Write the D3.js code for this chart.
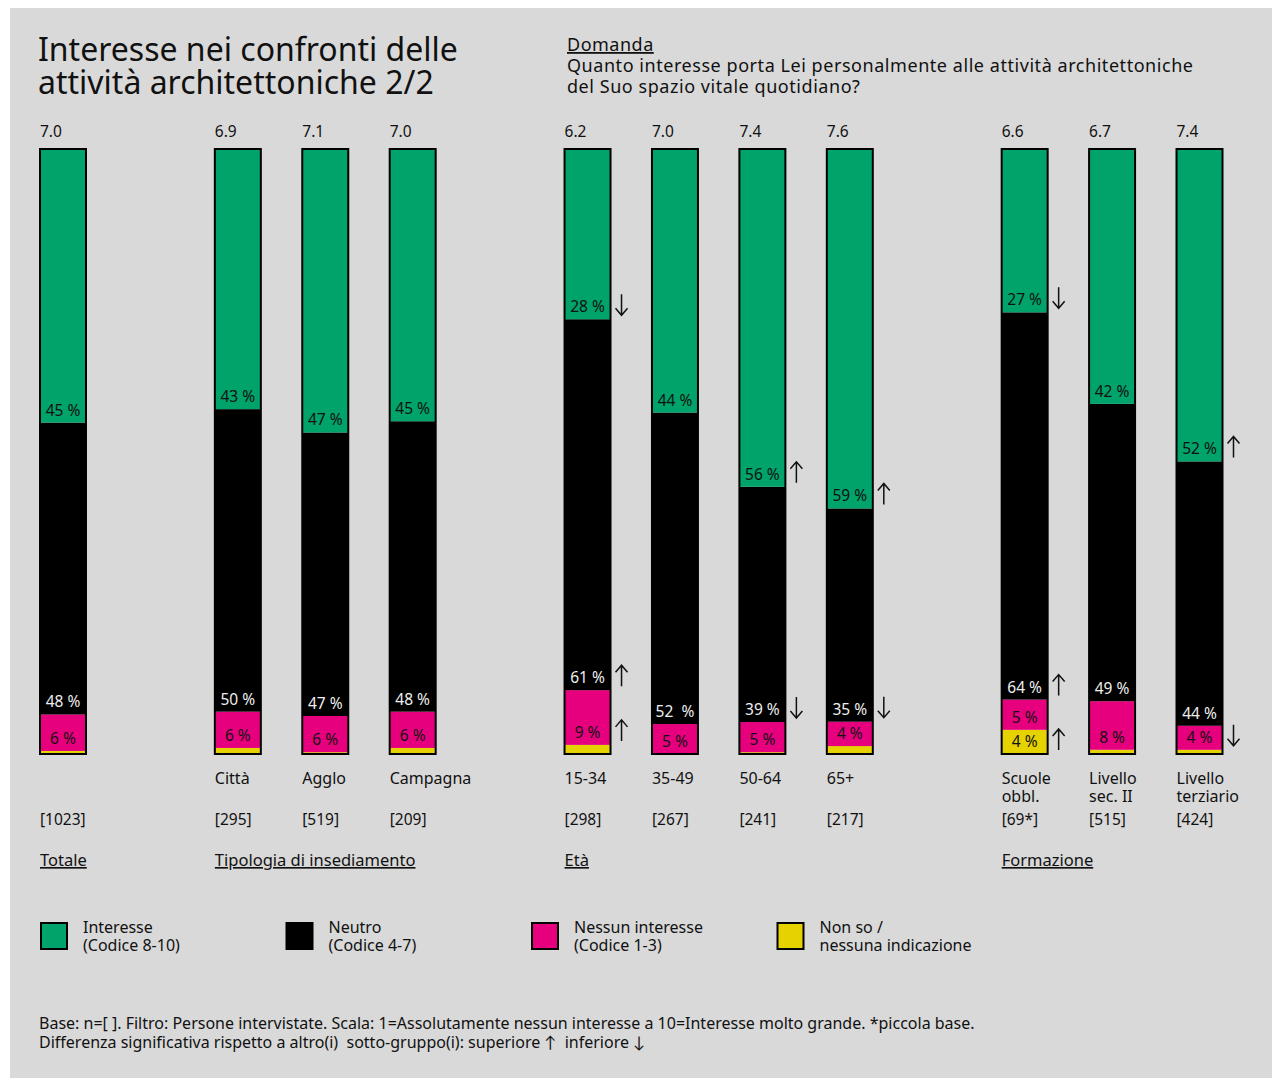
<!DOCTYPE html>
<html>
<head>
<meta charset="utf-8">
<script src="https://cdn.jsdelivr.net/npm/d3@7"></script>
<style>
  html, body { margin: 0; padding: 0; background: #ffffff; }
  svg { display: block; }
  text { font-family: "Noto Sans", Lato, sans-serif; fill: #111; }
</style>
</head>
<body>
<svg id="chart" width="1273" height="1080"></svg>
<script>
// ---- data ----
const categories = ["Totale", "Città", "Agglo", "Campagna", "15-34", "35-49", "50-64", "65+", "Scuole obbl.", "Livello sec. II", "Livello terziario"];
const categoryLines = [[""], ["Città"], ["Agglo"], ["Campagna"], ["15-34"], ["35-49"], ["50-64"], ["65+"], ["Scuole", "obbl."], ["Livello", "sec. II"], ["Livello", "terziario"]];
const slots = [0, 2, 3, 4, 6, 7, 8, 9, 11, 12, 13];
const meanScores = ["7.0", "6.9", "7.1", "7.0", "6.2", "7.0", "7.4", "7.6", "6.6", "6.7", "7.4"];
const baseSizes = ["[1023]", "[295]", "[519]", "[209]", "[298]", "[267]", "[241]", "[217]", "[69*]", "[515]", "[424]"];

const interesse = [45, 43, 47, 45, 28, 44, 56, 59, 27, 42, 52];
const neutro    = [48, 50, 47, 48, 61, 52, 39, 35, 64, 49, 44];
const nessuno   = [6, 6, 6, 6, 9, 5, 5, 4, 5, 8, 4];
const nonSo     = [0.5, 1, 0.3, 1, 1.5, 0, 0.3, 1.3, 4, 0.7, 0.7];

// significance markers per series: 1 = higher, -1 = lower
const sigInteresse = [0, 0, 0, 0, -1, 0, 1, 1, -1, 0, 1];
const sigNeutro    = [0, 0, 0, 0, 1, 0, -1, -1, 1, 0, 0];
const sigNessuno   = [0, 0, 0, 0, 1, 0, 0, 0, 0, 0, -1];
const sigNonSo     = [0, 0, 0, 0, 0, 0, 0, 0, 1, 0, 0];

const groups = [
  { name: "Totale", first: 0 },
  { name: "Tipologia di insediamento", first: 1 },
  { name: "Età", first: 4 },
  { name: "Formazione", first: 8 }
];

const seriesKeys = ["nonSo", "nessuno", "neutro", "interesse"];
const seriesValues = { interesse, neutro, nessuno, nonSo };
const seriesSig = { interesse: sigInteresse, neutro: sigNeutro, nessuno: sigNessuno, nonSo: sigNonSo };
const seriesColor = { interesse: "#00a36a", neutro: "#000000", nessuno: "#e6007e", nonSo: "#e6d200" };
const labelColor = { interesse: "#111", neutro: "#eeeeee", nessuno: "#111", nonSo: "#111" };
const labelMin = { interesse: 1, neutro: 1, nessuno: 1, nonSo: 3 };

const legendItems = [
  { key: "interesse", lines: ["Interesse", "(Codice 8-10)"] },
  { key: "neutro", lines: ["Neutro", "(Codice 4-7)"] },
  { key: "nessuno", lines: ["Nessun interesse", "(Codice 1-3)"] },
  { key: "nonSo", lines: ["Non so /", "nessuna indicazione"] }
];

const footer = [
  "Base: n=[ ]. Filtro: Persone intervistate. Scala: 1=Assolutamente nessun interesse a 10=Interesse molto grande. *piccola base.",
  "Differenza significativa rispetto a altro(i)  sotto-gruppo(i): superiore \u2191  inferiore \u2193"
];

// ---- layout ----
const svg = d3.select("#chart");
svg.append("rect").attr("x", 10).attr("y", 8).attr("width", 1262).attr("height", 1070).attr("fill", "#d9d9d9");

const rows = categories.map((c, i) => ({
  cat: c, i, slot: slots[i],
  interesse: interesse[i], neutro: neutro[i], nessuno: nessuno[i], nonSo: nonSo[i]
}));

const x = d3.scaleBand().domain(d3.range(14)).range([40, 1222.5]).paddingInner(0.474).paddingOuter(0);
const y = d3.scaleLinear().domain([0, 1]).range([754, 149]);
const bw = x.bandwidth();

const stacked = d3.stack().keys(seriesKeys).offset(d3.stackOffsetExpand)(rows);

// title
const title = svg.append("text").attr("x", 38).style("font-size", "32px").style("fill", "#111");
title.append("tspan").attr("x", 38).attr("y", 61).text("Interesse nei confronti delle");
title.append("tspan").attr("x", 38).attr("y", 94).text("attività architettoniche 2/2");

// question
svg.append("text").attr("x", 567).attr("y", 51).style("font-size", "18px").style("letter-spacing", "0.5px")
  .style("text-decoration", "underline").text("Domanda");
svg.append("text").attr("x", 567).attr("y", 72).style("font-size", "18px").style("letter-spacing", "0.55px")
  .text("Quanto interesse porta Lei personalmente alle attività architettoniche");
svg.append("text").attr("x", 567).attr("y", 93).style("font-size", "18px").style("letter-spacing", "0.55px")
  .text("del Suo spazio vitale quotidiano?");

// segments
const layer = svg.append("g");
stacked.forEach(s => {
  layer.append("g").selectAll("rect").data(s).join("rect")
    .attr("x", d => x(d.data.slot))
    .attr("y", d => y(d[1]))
    .attr("width", bw)
    .attr("height", d => Math.max(0, y(d[0]) - y(d[1])))
    .attr("fill", seriesColor[s.key]);
});

// bar outlines
layer.append("g").selectAll("rect").data(rows).join("rect")
  .attr("x", d => x(d.slot)).attr("y", y(1))
  .attr("width", bw).attr("height", y(0) - y(1))
  .attr("fill", "none").attr("stroke", "#000").attr("stroke-width", 2);

// segment labels and significance arrows
const labels = svg.append("g");
stacked.forEach(s => {
  s.forEach(d => {
    const v = seriesValues[s.key][d.data.i];
    if (v < labelMin[s.key]) return;
    const base = y(d[0]) - 7;
    const cx = x(d.data.slot) + bw / 2;
    labels.append("text")
      .attr("x", cx).attr("y", base)
      .attr("text-anchor", "middle")
      .style("font-size", "15.5px")
      .style("fill", labelColor[s.key])
      .style("white-space", "pre")
      .text(d.data.cat === "35-49" && s.key === "neutro" ? v + "  %" : v + " %");
    const sig = seriesSig[s.key][d.data.i];
    if (sig !== 0) {
      const ax = x(d.data.slot) + bw + 11;
      const top = base - 18, bot = base + 3;
      const tip = sig > 0 ? top : bot;
      const dir = sig > 0 ? 1 : -1;
      labels.append("path")
        .attr("d", `M${ax},${top}L${ax},${bot}M${ax - 6},${tip + dir * 7}L${ax},${tip}L${ax + 6},${tip + dir * 7}`)
        .attr("fill", "none").attr("stroke", "#111").attr("stroke-width", 1.5);
    }
  });
});

// mean scores
svg.append("g").selectAll("text").data(rows).join("text")
  .attr("x", d => x(d.slot)).attr("y", 137)
  .style("font-size", "15.5px")
  .text(d => meanScores[d.i]);

// category names
const catG = svg.append("g");
rows.forEach(d => {
  categoryLines[d.i].forEach((line, k) => {
    catG.append("text").attr("x", x(d.slot)).attr("y", 784 + k * 18)
      .style("font-size", "16px").text(line);
  });
});

// base sizes
svg.append("g").selectAll("text").data(rows).join("text")
  .attr("x", d => x(d.slot)).attr("y", 825)
  .style("font-size", "15.5px")
  .text(d => baseSizes[d.i]);

// group names
svg.append("g").selectAll("text").data(groups).join("text")
  .attr("x", g => x(slots[g.first])).attr("y", 866)
  .style("font-size", "16.5px").style("text-decoration", "underline")
  .text(g => g.name);

// legend
const lg = svg.append("g");
legendItems.forEach((item, k) => {
  const lx = 41 + k * 245.5;
  lg.append("rect").attr("x", lx).attr("y", 923).attr("width", 26).attr("height", 26)
    .attr("fill", seriesColor[item.key]).attr("stroke", "#000").attr("stroke-width", 2);
  item.lines.forEach((line, j) => {
    lg.append("text").attr("x", lx + 42).attr("y", 933 + j * 18)
      .style("font-size", "16px").text(line);
  });
});

// footer
footer.forEach((line, j) => {
  svg.append("text").attr("x", 39).attr("y", 1029 + j * 19)
    .style("font-size", "16px").style("white-space", "pre").text(line);
});
</script>
</body>
</html>
